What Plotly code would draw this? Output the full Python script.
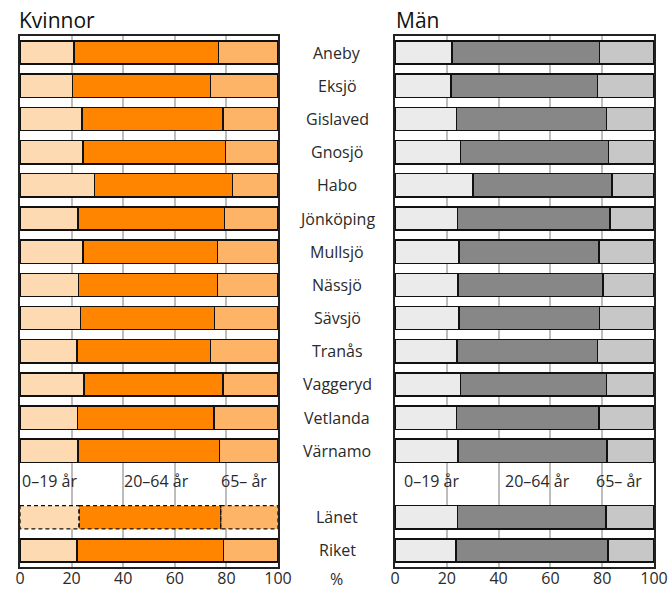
import plotly.graph_objects as go
from plotly.subplots import make_subplots

omraden = ["Aneby", "Eksjö", "Gislaved", "Gnosjö", "Habo", "Jönköping", "Mullsjö",
           "Nässjö", "Sävsjö", "Tranås", "Vaggeryd", "Vetlanda", "Värnamo", "Länet", "Riket"]
rader = [0, 1, 2, 3, 4, 5, 6, 7, 8, 9, 10, 11, 12, 14, 15]

kv_0_19 = [20.9, 20.4, 24.0, 24.4, 28.8, 22.5, 24.5, 22.7, 23.4, 22.0, 24.8, 22.3, 22.5, 22.9, 22.1]
kv_20_64 = [56.0, 53.5, 54.6, 55.3, 53.5, 56.7, 52.0, 53.8, 51.9, 51.9, 53.9, 52.9, 54.8, 54.9, 56.7]
kv_65 = [23.1, 26.1, 21.4, 20.3, 17.7, 20.8, 23.5, 23.5, 24.7, 26.1, 21.3, 24.8, 22.7, 22.2, 21.2]

man_0_19 = [22.0, 21.6, 23.8, 25.2, 30.1, 24.1, 24.8, 24.3, 24.7, 23.9, 25.2, 23.7, 24.3, 24.2, 23.6]
man_20_64 = [57.0, 56.5, 57.8, 57.2, 53.6, 59.0, 54.0, 56.1, 54.3, 54.2, 56.4, 55.1, 57.6, 57.3, 58.6]
man_65 = [21.0, 21.9, 18.4, 17.6, 16.3, 16.9, 21.2, 19.6, 21.0, 21.9, 18.4, 21.2, 18.1, 18.5, 17.8]

aldersgrupper = ["0–19 år", "20–64 år", "65– år"]
x_ticks = [0, 20, 40, 60, 80, 100]

kv_farger = ["#FDDAB2", "#FF8500", "#FDB466"]
man_farger = ["#EBEBEB", "#878787", "#C7C7C7"]

FONT = "Open Sans, Noto Sans, sans-serif"
TXT = "#2a2a2a"
BW = 0.7

fig = make_subplots(rows=1, cols=2, horizontal_spacing=0.1)

lan_idx = omraden.index("Länet")

def add_panel(col, serier, farger, dashed_lan):
    for s, f in zip(serier, farger):
        lw = [0 if (dashed_lan and i == lan_idx) else 1.5 for i in range(len(omraden))]
        fig.add_trace(go.Bar(
            y=rader, x=s, orientation="h", width=BW,
            marker=dict(color=f, line=dict(color="#111111", width=lw)),
            showlegend=False, hoverinfo="skip"), row=1, col=col)
    if dashed_lan:
        start = 0
        yc = rader[lan_idx]
        for s in serier:
            a, b = start, start + s[lan_idx]
            fig.add_trace(go.Scatter(
                x=[a, b, b, a, a],
                y=[yc - BW / 2, yc - BW / 2, yc + BW / 2, yc + BW / 2, yc - BW / 2],
                mode="lines", line=dict(color="#111111", width=1.3, dash="4px,3px"),
                showlegend=False, hoverinfo="skip"), row=1, col=col)
            start = b

add_panel(1, [kv_0_19, kv_20_64, kv_65], kv_farger, True)
add_panel(2, [man_0_19, man_20_64, man_65], man_farger, False)

# body margin is removed by post_script, so page pixels = figure pixels
W, H = 672, 590
def px(x):
    return x / W
def py(y):
    return 1 - y / H

L0, L1 = 20, 278
R0, R1 = 395, 654
T, B = 36, 567

axis_common = dict(range=[0, 100], tickvals=x_ticks, showgrid=True, gridcolor="#BDBDBD",
                   gridwidth=1.5, zeroline=False, ticks="", showline=True, mirror=True,
                   linecolor="#222222", linewidth=2, automargin=False,
                   ticklabelstandoff=-4,
                   tickfont=dict(family=FONT, size=16, color=TXT))
fig.update_xaxes(**axis_common)
fig.update_layout(
    xaxis=dict(domain=[px(L0), px(L1)]),
    xaxis2=dict(domain=[px(R0), px(R1)]),
)
yaxis_common = dict(range=[15.5, -0.5], showticklabels=False, showgrid=False, zeroline=False,
                    showline=True, mirror=True, linecolor="#222222", linewidth=2,
                    automargin=False, domain=[py(B), py(T)])
fig.update_yaxes(**yaxis_common)

annotations = []
for namn, r in zip(omraden, rader):
    annotations.append(dict(text=namn, x=px(337), xref="paper", y=r, yref="y",
                            showarrow=False, xanchor="center", yanchor="middle",
                            font=dict(family=FONT, size=16, color=TXT)))
annotations.append(dict(text="%", x=px(336), xref="paper", y=py(579), yref="paper",
                        showarrow=False, xanchor="center", yanchor="middle",
                        font=dict(family=FONT, size=16, color=TXT)))
leg_y = 12.9
for xr, pos in [("x", [11.6, 53, 87]), ("x2", [14, 55, 86.5])]:
    for txt, xp in zip(aldersgrupper, pos):
        annotations.append(dict(text=txt, x=xp, xref=xr, y=leg_y, yref="y",
                                showarrow=False, xanchor="center", yanchor="middle",
                                font=dict(family=FONT, size=16, color=TXT)))
annotations.append(dict(text="Kvinnor", x=px(18), xref="paper", y=py(20), yref="paper",
                        showarrow=False, xanchor="left", yanchor="middle", borderpad=0,
                        font=dict(family=FONT, size=21, color="#111111")))
annotations.append(dict(text="Män", x=px(395), xref="paper", y=py(20), yref="paper",
                        showarrow=False, xanchor="left", yanchor="middle", borderpad=0,
                        font=dict(family=FONT, size=21, color="#111111")))

fig.update_layout(
    width=W, height=H, barmode="stack", bargap=0.3,
    margin=dict(l=0, r=0, t=0, b=0),
    paper_bgcolor="white", plot_bgcolor="white",
    annotations=annotations, template="none",
    font=dict(family=FONT),
)

fig.write_html("out.html", config={"displayModeBar": False},
               post_script="document.body.style.margin='0px';document.body.style.overflow='hidden';")
